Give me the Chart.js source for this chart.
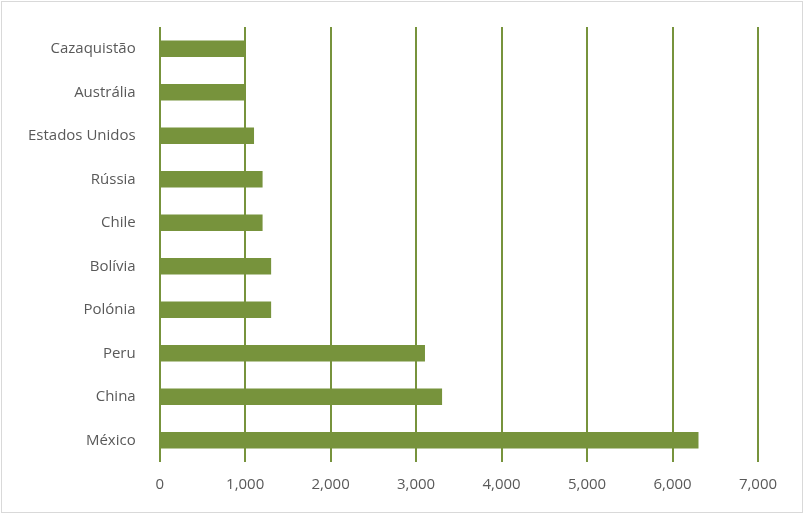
<!DOCTYPE html>
<html>
<head>
<meta charset="utf-8">
<script src="https://cdn.jsdelivr.net/npm/chart.js"></script>
<style>
  body { margin: 0; background: #fff; }
  #box { position: absolute; left: 1px; top: 1px; width: 800px; height: 510px; border: 1px solid #d9d9d9; }
</style>
</head>
<body>
<div id="box"><canvas id="grafico" width="800" height="510"></canvas></div>
<script>
// paises e producao
var paises = ['Cazaquistão', 'Austrália', 'Estados Unidos', 'Rússia', 'Chile', 'Bolívia', 'Polónia', 'Peru', 'China', 'México'];
var valores = [1000, 1000, 1100, 1200, 1200, 1300, 1300, 3100, 3300, 6300];
var ticksX = [0, 1000, 2000, 3000, 4000, 5000, 6000, 7000];

const ctx = document.getElementById('grafico');
new Chart(ctx, {
  type: 'bar',
  data: {
    labels: paises,
    datasets: [{
      data: valores,
      backgroundColor: '#77933C',
      barThickness: 16
    }]
  },
  options: {
    indexAxis: 'y',
    responsive: false,
    animation: false,
    layout: { padding: { top: 10, right: 44, bottom: 4, left: 10 } },
    plugins: { legend: { display: false }, tooltip: { enabled: false } },
    scales: {
      x: {
        min: 0, max: 7000,
        afterBuildTicks: function (axis) { axis.ticks = ticksX.map(function (v) { return { value: v }; }); },
        grid: { color: '#77933C', lineWidth: 2, drawTicks: false },
        border: { display: false },
        ticks: { color: '#595959', font: { family: 'Open Sans', size: 15 }, padding: 14 }
      },
      y: {
        grid: { display: false },
        border: { display: false },
        ticks: { color: '#595959', font: { family: 'Open Sans', size: 15 }, padding: 16 }
      }
    }
  }
});
</script>
</body>
</html>
